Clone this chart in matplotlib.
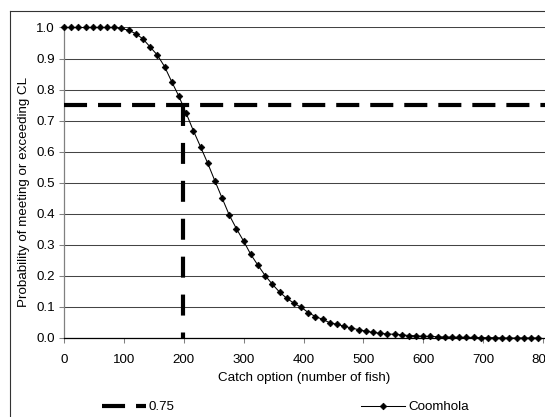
import numpy as np
import matplotlib
matplotlib.use("Agg")
import matplotlib.pyplot as plt
from matplotlib.lines import Line2D

plt.rcParams['font.family'] = ['Liberation Sans', 'DejaVu Sans']
plt.rcParams['font.size'] = 9.6
plt.rcParams['lines.scale_dashes'] = False

# --- datos ---
catch_step = 12
prob_coomhola = [
    1.0, 1.0, 1.0, 1.0, 1.0, 1.0, 1.0, 1.0, 0.997, 0.991,
    0.980, 0.963, 0.937, 0.911, 0.874, 0.825, 0.778, 0.724, 0.668, 0.616,
    0.563, 0.506, 0.451, 0.396, 0.352, 0.312, 0.269, 0.234, 0.201, 0.173,
    0.148, 0.128, 0.112, 0.099, 0.082, 0.069, 0.060, 0.049, 0.044, 0.038,
    0.032, 0.027, 0.022, 0.018, 0.015, 0.013, 0.012, 0.010, 0.008, 0.007,
    0.005, 0.005, 0.004, 0.003, 0.003, 0.002, 0.002, 0.002, 0.001, 0.001,
    0.001, 0.0, 0.0, 0.0, 0.0, 0.0, 0.0,
]
catch_options = [i * catch_step for i in range(len(prob_coomhola))]
threshold = 0.75
catch_at_threshold = 198

x_ticks = [0, 100, 200, 300, 400, 500, 600, 700, 800]
y_ticks = [0.0, 0.1, 0.2, 0.3, 0.4, 0.5, 0.6, 0.7, 0.8, 0.9, 1.0]

W, H = 545, 417
fig = plt.figure(figsize=(W / 100, H / 100), dpi=100)
ax = fig.add_axes([64 / W, 1 - 338 / H, (545 - 64) / W, (338 - 27.5) / H])

# lineas de referencia 0.75
linea_h = ax.axhline(threshold, color='black', lw=3, linestyle=(0, (16.6, 7.9)),
                     label='0.75', zorder=3)
ax.plot([catch_at_threshold, catch_at_threshold], [threshold, 0], color='black', lw=3,
        linestyle=(0, (15.1, 12.2)), zorder=3)

# curva
curva, = ax.plot(catch_options, prob_coomhola, color='black', lw=0.75, marker='D',
                 ms=3.4, mew=0.5, label='Coomhola', clip_on=False, zorder=4)

ax.set_xlim(0, 800 * 481 / 479)
ax.set_ylim(0, 1)
ax.set_xticks(x_ticks)
ax.set_yticks(y_ticks)
ax.set_yticklabels([f'{v:.1f}' for v in y_ticks])
ax.grid(axis='y', color='#444444', lw=0.75)
ax.set_axisbelow(True)

for s in ['top', 'right']:
    ax.spines[s].set_visible(False)
ax.spines['left'].set_color('#808080')
ax.spines['left'].set_linewidth(0.9)
ax.spines['bottom'].set_color('black')
ax.spines['bottom'].set_linewidth(0.9)
ax.tick_params(axis='both', direction='out', length=3.6, width=0.75, color='#808080')
ax.tick_params(axis='x', pad=8)
ax.tick_params(axis='y', pad=3)

ax.set_xlabel('Catch option (number of fish)', labelpad=4)
ax.set_ylabel('Probability of meeting or exceeding CL')
ax.yaxis.set_label_coords(-0.0707, 0.472)

fig.legend([linea_h, curva], ['0.75', 'Coomhola'], loc='center left',
           bbox_to_anchor=(102 / W, 1 - 407 / H), ncol=2, frameon=False,
           handlelength=3.3, handletextpad=0.2, columnspacing=14,
           borderpad=0, borderaxespad=0, numpoints=1)

# borde exterior del grafico
fig.add_artist(Line2D([9.5 / W, 9.5 / W], [0, 1 - 11 / H], transform=fig.transFigure,
                      color='#333333', lw=0.8))
fig.add_artist(Line2D([9.5 / W, 1], [1 - 11 / H, 1 - 11 / H], transform=fig.transFigure,
                      color='#333333', lw=0.8))

fig.savefig('out.png', dpi=100)
